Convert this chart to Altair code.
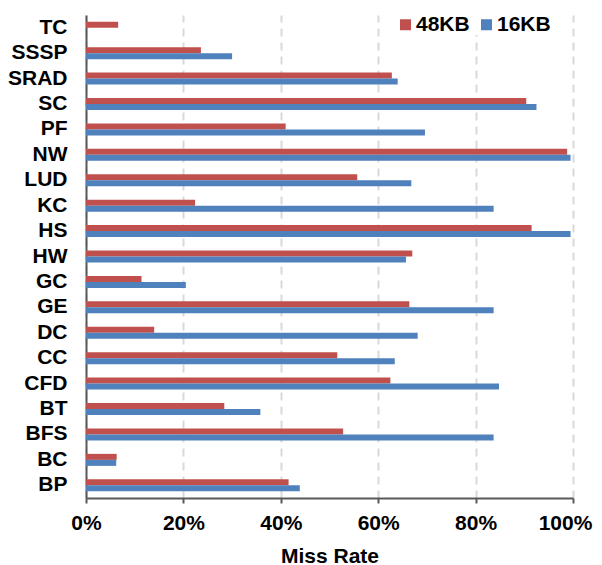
import altair as alt
import pandas as pd

categories = ["TC", "SSSP", "SRAD", "SC", "PF", "NW", "LUD", "KC", "HS", "HW",
              "GC", "GE", "DC", "CC", "CFD", "BT", "BFS", "BC", "BP"]
kb48 = [6.6, 23.6, 62.8, 90.4, 41.0, 98.8, 55.7, 22.4, 91.5, 67.0,
        11.4, 66.4, 14.0, 51.6, 62.5, 28.4, 52.8, 6.3, 41.6]
kb16 = [None, 30.0, 64.0, 92.5, 69.6, 99.5, 66.8, 83.7, 99.5, 65.7,
        20.5, 83.7, 68.1, 63.4, 84.8, 35.8, 83.7, 6.2, 43.9]
series = ["48KB", "16KB"]
colors = ["#C0504D", "#4F81BD"]
ticks = [0, 0.2, 0.4, 0.6, 0.8, 1.0]

rows = []
for c, a, b in zip(categories, kb48, kb16):
    if a is not None:
        rows.append({"cat": c, "series": "48KB", "rate": a / 100})
    if b is not None:
        rows.append({"cat": c, "series": "16KB", "rate": b / 100})
df = pd.DataFrame(rows)

FONT = "Liberation Sans"
FS = 21

chart = alt.Chart(df).mark_bar().encode(
    x=alt.X("rate:Q",
            scale=alt.Scale(domain=[0, 1], nice=False),
            axis=alt.Axis(values=ticks, format=".0%", title="Miss Rate",
                          grid=True, gridColor="#D9D9D9", gridWidth=2, gridDash=[8, 6],
                          domainColor="#595959", domainWidth=2,
                          tickColor="#595959", tickWidth=2, tickSize=5,
                          labelFontSize=FS, labelFontWeight="bold", labelColor="black",
                          labelFont=FONT, labelPadding=9, labelFlush=False,
                          labelOffset={"condition": {"test": "datum.value == 1", "value": -8},
                                       "value": 0},
                          titleFont=FONT, titleFontSize=FS, titleFontWeight="bold",
                          titleColor="black", titlePadding=12)),
    y=alt.Y("cat:N", sort=categories,
            scale=alt.Scale(paddingInner=0.528, paddingOuter=0.264),
            axis=alt.Axis(title=None, ticks=False, tickSize=0, grid=False,
                          domainColor="#595959", domainWidth=2,
                          labelFontSize=FS, labelFontWeight="bold", labelColor="black",
                          labelFont=FONT, labelPadding=19)),
    yOffset=alt.YOffset("series:N", sort=series, scale=alt.Scale(paddingInner=0, paddingOuter=0)),
    color=alt.Color("series:N",
                    scale=alt.Scale(domain=series, range=colors),
                    legend=alt.Legend(title=None, orient="none", legendX=309, legendY=-1,
                                      direction="horizontal", symbolType="square",
                                      symbolSize=121, symbolStrokeWidth=0,
                                      labelFontSize=FS, labelFontWeight="bold",
                                      labelFont=FONT, labelColor="black",
                                      labelOffset=0, columnPadding=6,
                                      fillColor="white", padding=0)),
).properties(
    width=487,
    height=483,
    autosize=alt.AutoSizeParams(type="none"),
    padding={"left": 78, "top": 7, "right": 21, "bottom": 80},
).configure_view(stroke=None)

chart.save("out.html", embed_options={"renderer": "svg", "actions": False})
